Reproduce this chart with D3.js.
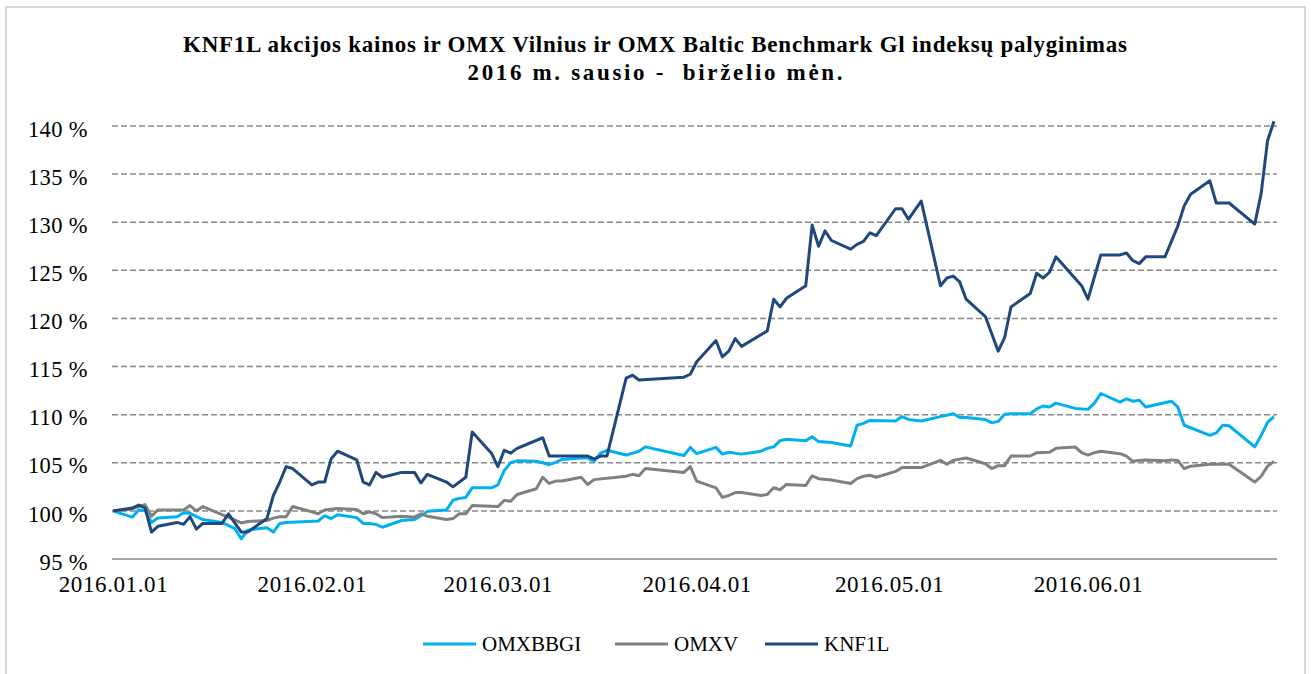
<!DOCTYPE html>
<html>
<head>
<meta charset="utf-8">
<style>
  body { margin: 0; background: #fff; }
  text { font-family: "Liberation Serif", "DejaVu Serif", serif; fill: #000; }
</style>
<script src="https://cdn.jsdelivr.net/npm/d3@7"></script>
</head>
<body>
<svg id="chart" width="1312" height="674"></svg>
<script>
// KNF1L, OMXV, OMXBBGI, % of 2016.01.01 level
var knfDates = ["2016-01-01","2016-01-04","2016-01-05","2016-01-06","2016-01-07","2016-01-08","2016-01-11","2016-01-12","2016-01-13","2016-01-14","2016-01-15","2016-01-18","2016-01-19","2016-01-21","2016-01-22","2016-01-25","2016-01-26","2016-01-27","2016-01-28","2016-01-29",
  "2016-02-01","2016-02-02","2016-02-03","2016-02-04","2016-02-05","2016-02-08","2016-02-09","2016-02-10","2016-02-11","2016-02-12","2016-02-15","2016-02-17","2016-02-18","2016-02-19","2016-02-22","2016-02-23","2016-02-25","2016-02-26","2016-02-29",
  "2016-03-01","2016-03-02","2016-03-03","2016-03-04","2016-03-08","2016-03-09","2016-03-15","2016-03-16","2016-03-17","2016-03-18","2016-03-21","2016-03-22","2016-03-23","2016-03-30","2016-03-31",
  "2016-04-01","2016-04-04","2016-04-05","2016-04-06","2016-04-07","2016-04-08","2016-04-11","2016-04-12","2016-04-13","2016-04-14","2016-04-15","2016-04-18","2016-04-19","2016-04-20","2016-04-21","2016-04-22","2016-04-25","2016-04-26","2016-04-27","2016-04-28","2016-04-29",
  "2016-05-02","2016-05-03","2016-05-04","2016-05-06","2016-05-09","2016-05-10","2016-05-11","2016-05-12","2016-05-13","2016-05-16","2016-05-18","2016-05-19","2016-05-20","2016-05-23","2016-05-24","2016-05-25","2016-05-26","2016-05-27","2016-05-31",
  "2016-06-01","2016-06-03","2016-06-06","2016-06-07","2016-06-08","2016-06-09","2016-06-10","2016-06-13","2016-06-15","2016-06-16","2016-06-17","2016-06-20","2016-06-21","2016-06-23","2016-06-27","2016-06-28","2016-06-29","2016-06-30"];
var knfValues = [100,100.3,100.6,100.3,97.8,98.4,98.8,98.6,99.4,98.1,98.7,98.7,99.7,97.8,97.8,99.2,101.6,103.0,104.6,104.4,
  102.7,103.0,103.0,105.4,106.2,105.3,103.0,102.7,104.0,103.5,104.0,104.0,102.9,103.8,103.0,102.5,103.5,108.2,106.0,
  104.6,106.3,106.0,106.5,107.6,105.7,105.7,105.4,105.7,105.7,113.8,114.1,113.6,113.9,114.2,
  115.5,117.7,116.0,116.6,117.9,117.1,118.3,118.7,122.0,121.2,122.1,123.4,129.7,127.5,129.1,128.1,127.2,127.7,128.0,128.9,128.6,
  131.4,131.4,130.3,132.2,123.4,124.2,124.4,123.8,122.0,120.2,116.6,118.0,121.2,122.6,124.7,124.2,124.8,126.4,123.4,
  122.0,126.6,126.6,126.8,126.0,125.7,126.4,126.4,129.6,131.7,132.9,134.3,132.0,132.0,129.8,133.0,138.5,140.5];

var bbgiDates = ["2016-01-01","2016-01-04","2016-01-05","2016-01-06","2016-01-07","2016-01-08","2016-01-11","2016-01-12","2016-01-13","2016-01-15","2016-01-18","2016-01-20","2016-01-21","2016-01-22","2016-01-25","2016-01-26","2016-01-27","2016-01-28",
  "2016-02-02","2016-02-03","2016-02-04","2016-02-05","2016-02-08","2016-02-09","2016-02-10","2016-02-11","2016-02-12","2016-02-15","2016-02-17","2016-02-18","2016-02-19","2016-02-22","2016-02-23","2016-02-24","2016-02-25","2016-02-26","2016-02-29",
  "2016-03-01","2016-03-02","2016-03-03","2016-03-04","2016-03-07","2016-03-08","2016-03-09","2016-03-10","2016-03-11","2016-03-14","2016-03-15","2016-03-16","2016-03-17","2016-03-18","2016-03-21","2016-03-23","2016-03-24","2016-03-30","2016-03-31",
  "2016-04-01","2016-04-04","2016-04-05","2016-04-06","2016-04-08","2016-04-11","2016-04-12","2016-04-13","2016-04-14","2016-04-15","2016-04-18","2016-04-19","2016-04-20","2016-04-22","2016-04-25","2016-04-26","2016-04-27","2016-04-28",
  "2016-05-02","2016-05-03","2016-05-04","2016-05-06","2016-05-09","2016-05-11","2016-05-12","2016-05-13","2016-05-16","2016-05-17","2016-05-18","2016-05-19","2016-05-20","2016-05-23","2016-05-24","2016-05-25","2016-05-26","2016-05-27","2016-05-30",
  "2016-06-01","2016-06-02","2016-06-03","2016-06-06","2016-06-07","2016-06-08","2016-06-09","2016-06-10","2016-06-14","2016-06-15","2016-06-16","2016-06-20","2016-06-21","2016-06-22","2016-06-23","2016-06-27","2016-06-28","2016-06-29","2016-06-30"];
var bbgiValues = [100,99.35,100.1,100.05,98.8,99.25,99.4,99.8,99.75,99.1,98.8,98.15,97.1,98.0,98.25,97.8,98.7,98.8,
  98.95,99.5,99.2,99.6,99.3,98.7,98.7,98.6,98.3,99.0,99.1,99.5,99.95,100.1,101.1,101.3,101.4,102.4,102.4,
  102.7,104.2,105.0,105.2,105.15,105.0,104.8,105.05,105.35,105.5,105.5,105.15,106.0,106.3,105.8,106.2,106.65,105.75,106.6,
  105.95,106.6,105.9,106.1,105.9,106.2,106.5,106.65,107.3,107.45,107.3,107.7,107.2,107.1,106.75,108.9,109.1,109.4,
  109.35,109.8,109.5,109.35,109.8,110.1,109.7,109.7,109.5,109.15,109.3,110.05,110.1,110.1,110.6,110.9,110.8,111.2,110.65,
  110.55,111.2,112.2,111.3,111.65,111.4,111.5,110.8,111.4,110.8,108.9,107.85,108.1,108.9,108.85,106.65,107.85,109.2,109.8];

var omxvDates = ["2016-01-01","2016-01-04","2016-01-05","2016-01-06","2016-01-07","2016-01-08","2016-01-11","2016-01-12","2016-01-13","2016-01-14","2016-01-15","2016-01-18","2016-01-19","2016-01-21","2016-01-22","2016-01-25","2016-01-26","2016-01-27","2016-01-28","2016-01-29",
  "2016-02-01","2016-02-02","2016-02-03","2016-02-05","2016-02-08","2016-02-09","2016-02-10","2016-02-11","2016-02-12","2016-02-15","2016-02-17","2016-02-18","2016-02-19","2016-02-22","2016-02-23","2016-02-24","2016-02-25","2016-02-26",
  "2016-03-01","2016-03-02","2016-03-03","2016-03-04","2016-03-07","2016-03-08","2016-03-09","2016-03-10","2016-03-11","2016-03-14","2016-03-15","2016-03-16","2016-03-21","2016-03-22","2016-03-23","2016-03-24","2016-03-30","2016-03-31",
  "2016-04-01","2016-04-04","2016-04-05","2016-04-06","2016-04-07","2016-04-08","2016-04-11","2016-04-12","2016-04-13","2016-04-14","2016-04-15","2016-04-18","2016-04-19","2016-04-20","2016-04-22","2016-04-25","2016-04-26","2016-04-27","2016-04-28","2016-04-29",
  "2016-05-02","2016-05-03","2016-05-06","2016-05-09","2016-05-10","2016-05-11","2016-05-13","2016-05-16","2016-05-17","2016-05-18","2016-05-19","2016-05-20","2016-05-23","2016-05-24","2016-05-26","2016-05-27","2016-05-30","2016-05-31",
  "2016-06-01","2016-06-02","2016-06-03","2016-06-06","2016-06-07","2016-06-08","2016-06-09","2016-06-10","2016-06-13","2016-06-14","2016-06-15","2016-06-16","2016-06-17","2016-06-20","2016-06-23","2016-06-27","2016-06-28","2016-06-29","2016-06-30"];
var omxvValues = [100,100.2,100.45,100.65,99.45,100.1,100.1,100.1,100.55,100.0,100.45,99.6,99.35,98.75,98.9,99.0,99.25,99.4,99.4,100.45,
  99.9,99.7,100.1,100.25,100.15,99.7,99.9,99.7,99.3,99.45,99.35,99.7,99.45,99.1,99.2,99.7,99.7,100.55,
  100.45,101.1,101.0,101.7,102.3,103.5,102.85,103.1,103.1,103.5,102.75,103.25,103.6,103.8,103.65,104.4,104.0,104.6,
  103.1,102.4,101.4,101.6,101.9,101.9,101.6,101.7,102.4,102.2,102.75,102.65,103.65,103.35,103.2,102.85,103.35,103.6,103.7,103.5,
  104.1,104.5,104.5,105.25,104.85,105.25,105.5,104.9,104.4,104.7,104.7,105.7,105.7,106.05,106.1,106.5,106.65,106.05,
  105.8,106.05,106.2,105.95,105.7,105.15,105.25,105.3,105.2,105.3,105.25,104.4,104.65,104.85,104.85,103.0,103.6,104.65,105.15];

var seriesNames = ["OMXBBGI", "OMXV", "KNF1L"];
var seriesColors = ["#00b0f0", "#808080", "#1f497d"];
var yTicks = [95, 100, 105, 110, 115, 120, 125, 130, 135, 140];
var titleLines = ["KNF1L akcijos kainos ir OMX Vilnius ir OMX Baltic Benchmark Gl indeksų palyginimas",
                  "2016 m. sausio -  birželio mėn."];

var parse = d3.timeParse("%Y-%m-%d");
function pairs(dates, values) {
  return dates.map(function(d, i) { return { date: parse(d), value: values[i] }; });
}
var series = [pairs(bbgiDates, bbgiValues), pairs(omxvDates, omxvValues), pairs(knfDates, knfValues)];

var svg = d3.select("#chart");

// frame
svg.append("rect")
  .attr("x", 6).attr("y", 7)
  .attr("width", 1299).attr("height", 680)
  .attr("fill", "#fff")
  .attr("stroke", "#d9d9d9")
  .attr("stroke-width", 2);

var x = d3.scaleTime()
  .domain([parse("2016-01-01"), parse("2016-06-30")])
  .range([113, 1274]);
var y = d3.scaleLinear()
  .domain([95, 140])
  .range([559, 126]);

// title (stretched to the width of the original Cambria text)
var titleWidths = [944, 375];
svg.append("g").selectAll("text")
  .data(titleLines)
  .join("text")
    .attr("x", 655)
    .attr("y", function(d, i) { return 52 + i * 28; })
    .attr("text-anchor", "middle")
    .attr("font-size", "23px")
    .attr("font-weight", "bold")
    .attr("textLength", function(d, i) { return titleWidths[i]; })
    .attr("lengthAdjust", "spacing")
    .style("white-space", "pre")
    .text(function(d) { return d; });

// gridlines
svg.append("g").selectAll("line")
  .data(yTicks.filter(function(t) { return t > 95; }))
  .join("line")
    .attr("x1", 112).attr("x2", 1277)
    .attr("y1", function(d) { return y(d); })
    .attr("y2", function(d) { return y(d); })
    .attr("stroke", "#898989")
    .attr("stroke-width", 1.5)
    .attr("stroke-dasharray", "6,3");

// x axis line at 95 %
svg.append("line")
  .attr("x1", 112).attr("x2", 1277)
  .attr("y1", y(95)).attr("y2", y(95))
  .attr("stroke", "#898989")
  .attr("stroke-width", 1.5);

// y labels
var yAxis = d3.axisLeft(y)
  .tickValues(yTicks)
  .tickSize(0)
  .tickPadding(0)
  .tickFormat(function(d) { return d + " %"; });
var gy = svg.append("g")
  .attr("transform", "translate(88,3)")
  .call(yAxis);
gy.select(".domain").remove();
gy.selectAll("text")
  .attr("font-size", "22.5px")
  .attr("font-family", "Liberation Serif")
  .attr("letter-spacing", "0.4px")
  .attr("fill", "#000");

// x labels
var xAxis = d3.axisBottom(x)
  .ticks(d3.timeMonth.every(1))
  .tickSize(0)
  .tickPadding(0)
  .tickFormat(d3.timeFormat("%Y.%m.%d"));
var gx = svg.append("g")
  .attr("transform", "translate(0,576)")
  .call(xAxis);
gx.select(".domain").remove();
gx.selectAll("text")
  .attr("font-size", "23px")
  .attr("font-family", "Liberation Serif")
  .attr("letter-spacing", "0.6px")
  .attr("fill", "#000");

// lines
var line = d3.line()
  .x(function(d) { return x(d.date); })
  .y(function(d) { return y(d.value); });

svg.append("g").selectAll("path")
  .data(series)
  .join("path")
    .attr("d", line)
    .attr("fill", "none")
    .attr("stroke", function(d, i) { return seriesColors[i]; })
    .attr("stroke-width", 3)
    .attr("stroke-linejoin", "round");

// legend
var legendX = [423, 615, 765];
var leg = svg.append("g").selectAll("g")
  .data(seriesNames)
  .join("g")
    .attr("transform", function(d, i) { return "translate(" + legendX[i] + ",644)"; });
leg.append("line")
  .attr("x1", 0).attr("x2", 53)
  .attr("stroke", function(d, i) { return seriesColors[i]; })
  .attr("stroke-width", 3);
leg.append("text")
  .attr("x", 59)
  .attr("dy", "0.35em")
  .attr("font-size", "21px")
  .text(function(d) { return d; });
</script>
</body>
</html>
